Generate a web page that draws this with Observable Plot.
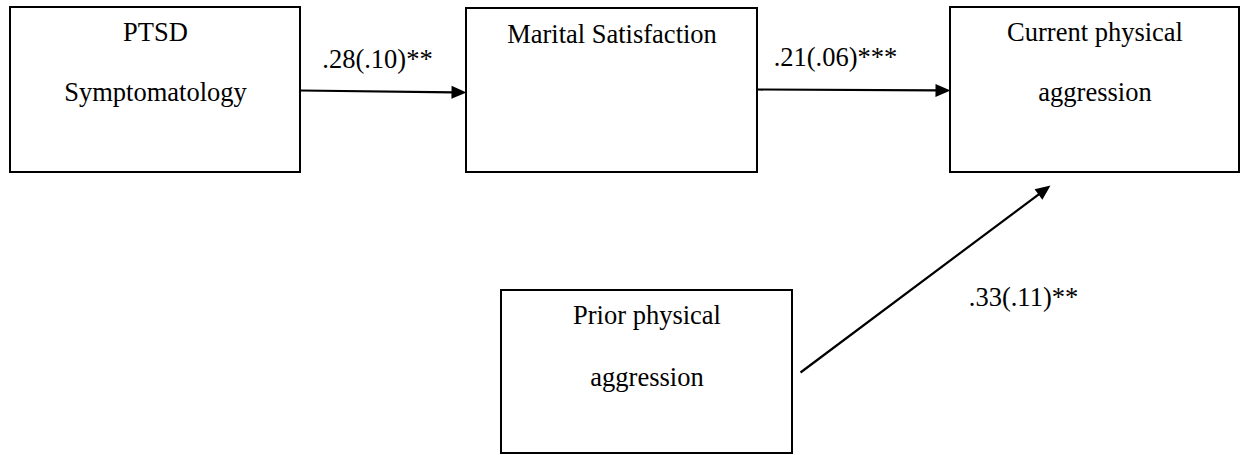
<!DOCTYPE html>
<html>
<head>
<meta charset="utf-8">
<script src="https://cdn.jsdelivr.net/npm/d3@7"></script>
<script src="https://cdn.jsdelivr.net/npm/@observablehq/plot@0.6"></script>
<style>
  html, body { margin: 0; padding: 0; background: #fff; }
  #chart svg { display: block; }
</style>
</head>
<body>
<div id="chart"></div>
<script>
// ---- Data: variables and path coefficients ----
const variables = ["PTSD Symptomatology", "Marital Satisfaction", "Current physical aggression", "Prior physical aggression"];
const variableLines = [["PTSD", "Symptomatology"], ["Marital Satisfaction"], ["Current physical", "aggression"], ["Prior physical", "aggression"]];
const pathFrom = [0, 1, 3];
const pathTo = [1, 2, 2];
const pathLabels = [".28(.10)**", ".21(.06)***", ".33(.11)**"];

// ---- Layout (diagram geometry, pixel space) ----
const boxX1 = [10, 466, 950, 501];
const boxX2 = [300, 757, 1239, 792];
const boxY1 = [7, 8, 7, 290];
const boxY2 = [172, 172, 172, 453];
const lineBaselines = [[40, 100], [42], [40, 100], [323, 385]];
const arrowStart = [[300, 90], [757, 89], [800, 372]];
const arrowEnd = [[466, 92], [950, 90], [1050, 185]];
const labelPos = [[377, 67], [835, 65], [1023, 305]];

const boxes = variables.map((name, i) => ({name, x1: boxX1[i], x2: boxX2[i], y1: boxY1[i], y2: boxY2[i]}));
const texts = variableLines.flatMap((lines, i) => lines.map((t, j) => ({
  text: t, x: (boxX1[i] + boxX2[i]) / 2, y: lineBaselines[i][j]
})));
const paths = pathLabels.map((label, i) => {
  const [x1, y1] = arrowStart[i];
  const [x2, y2] = arrowEnd[i];
  const ang = Math.atan2(x2 - x1, -(y2 - y1)) * 180 / Math.PI;
  const len = 15;
  const r = Math.hypot(x2 - x1, y2 - y1);
  return {
    from: variables[pathFrom[i]], to: variables[pathTo[i]], label,
    x1, y1, x2, y2,
    sx2: x2 - (x2 - x1) / r * (len - 2), sy2: y2 - (y2 - y1) / r * (len - 2),
    angle: ang, lx: labelPos[i][0], ly: labelPos[i][1]
  };
});

// Arrowhead symbol: tip at origin, pointing "up"
const arrowHead = {
  draw(context, size) {
    context.moveTo(0, 0);
    context.lineTo(6.5, 15);
    context.lineTo(-6.5, 15);
    context.closePath();
  }
};

const font = "'Liberation Serif', 'Times New Roman', serif";

const chart = Plot.plot({
  width: 1240,
  height: 455,
  margin: 0,
  x: {domain: [0, 1240], axis: null},
  y: {domain: [0, 455], reverse: true, axis: null},
  style: {fontFamily: font, background: "#fff"},
  marks: [
    Plot.rect(boxes, {x1: "x1", x2: "x2", y1: "y1", y2: "y2", fill: "white", stroke: "black", strokeWidth: 2}),
    Plot.link(paths, {x1: "x1", y1: "y1", x2: "sx2", y2: "sy2", stroke: "black", strokeWidth: 2.2}),
    Plot.dot(paths, {x: "x2", y: "y2", symbol: arrowHead, rotate: "angle", fill: "black", stroke: "none", r: 5}),
    Plot.text(texts, {x: "x", y: "y", text: "text", lineAnchor: "bottom", fontSize: 26.5, fill: "black", fontFamily: font}),
    Plot.text(paths, {x: "lx", y: "ly", text: "label", lineAnchor: "bottom", fontSize: 26.5, fill: "black", fontFamily: font})
  ]
});
document.getElementById("chart").appendChild(chart);
</script>
</body>
</html>
